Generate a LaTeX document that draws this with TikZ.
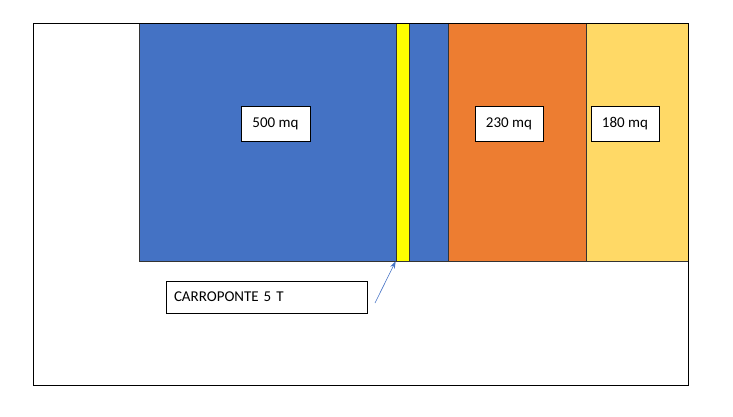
\documentclass[tikz,border=0pt]{standalone}
\usepackage{fontspec}
\setmainfont{Carlito}
\usetikzlibrary{arrows.meta}
\definecolor{cblue}{HTML}{4472C4}
\definecolor{corange}{HTML}{ED7D31}
\definecolor{clight}{HTML}{FFD966}
\definecolor{cyel}{HTML}{FFFF00}
\begin{document}
\begin{tikzpicture}[x=1pt,y=-1pt,
  area/.style={draw=black!80,line width=0.8pt},
  lbl/.style={draw=black,line width=0.8pt,fill=white,font=\fontsize{15}{18}\selectfont,inner sep=0pt,anchor=center},
  conn/.style={draw=cblue,line width=0.6pt,-{Stealth[length=7pt,width=5pt]}}]
\useasboundingbox (0,0) rectangle (733,416);
\draw[line width=1pt] (33,23) rectangle (688,385);
\fill[cblue] (139,23) rectangle (448,261);
\draw[area] (139,261) -- (448,261);
\draw[area] (139,23) -- (139,261);
\fill[corange] (448,23) rectangle (586,261);
\fill[clight] (586,23) rectangle (688,261);
\draw[area] (448,23) -- (448,261);
\draw[area] (586,23) -- (586,261);
\draw[area] (448,261) -- (688,261);
\node[area,fill=cyel,minimum width=13pt,minimum height=238pt,inner sep=0pt] (strip) at (402.5,142) {};
\draw[line width=1pt] (33,23) rectangle (688,385);
\node[lbl,minimum width=69pt,minimum height=35pt] (a500) at (275.5,123.5) {500 mq};
\node[lbl,minimum width=68pt,minimum height=35pt] (a230) at (509,123.5) {230 mq};
\node[lbl,minimum width=68pt,minimum height=35pt] (a180) at (625,123.5) {180 mq};
\node[lbl,minimum width=201pt,minimum height=32pt,text width=185pt,align=left] (car) at (266.5,297) {CARROPONTE 5 T};
\coordinate (cs) at (375,303);
\draw[conn] (cs) -- (strip.south west);
\end{tikzpicture}
\end{document}
